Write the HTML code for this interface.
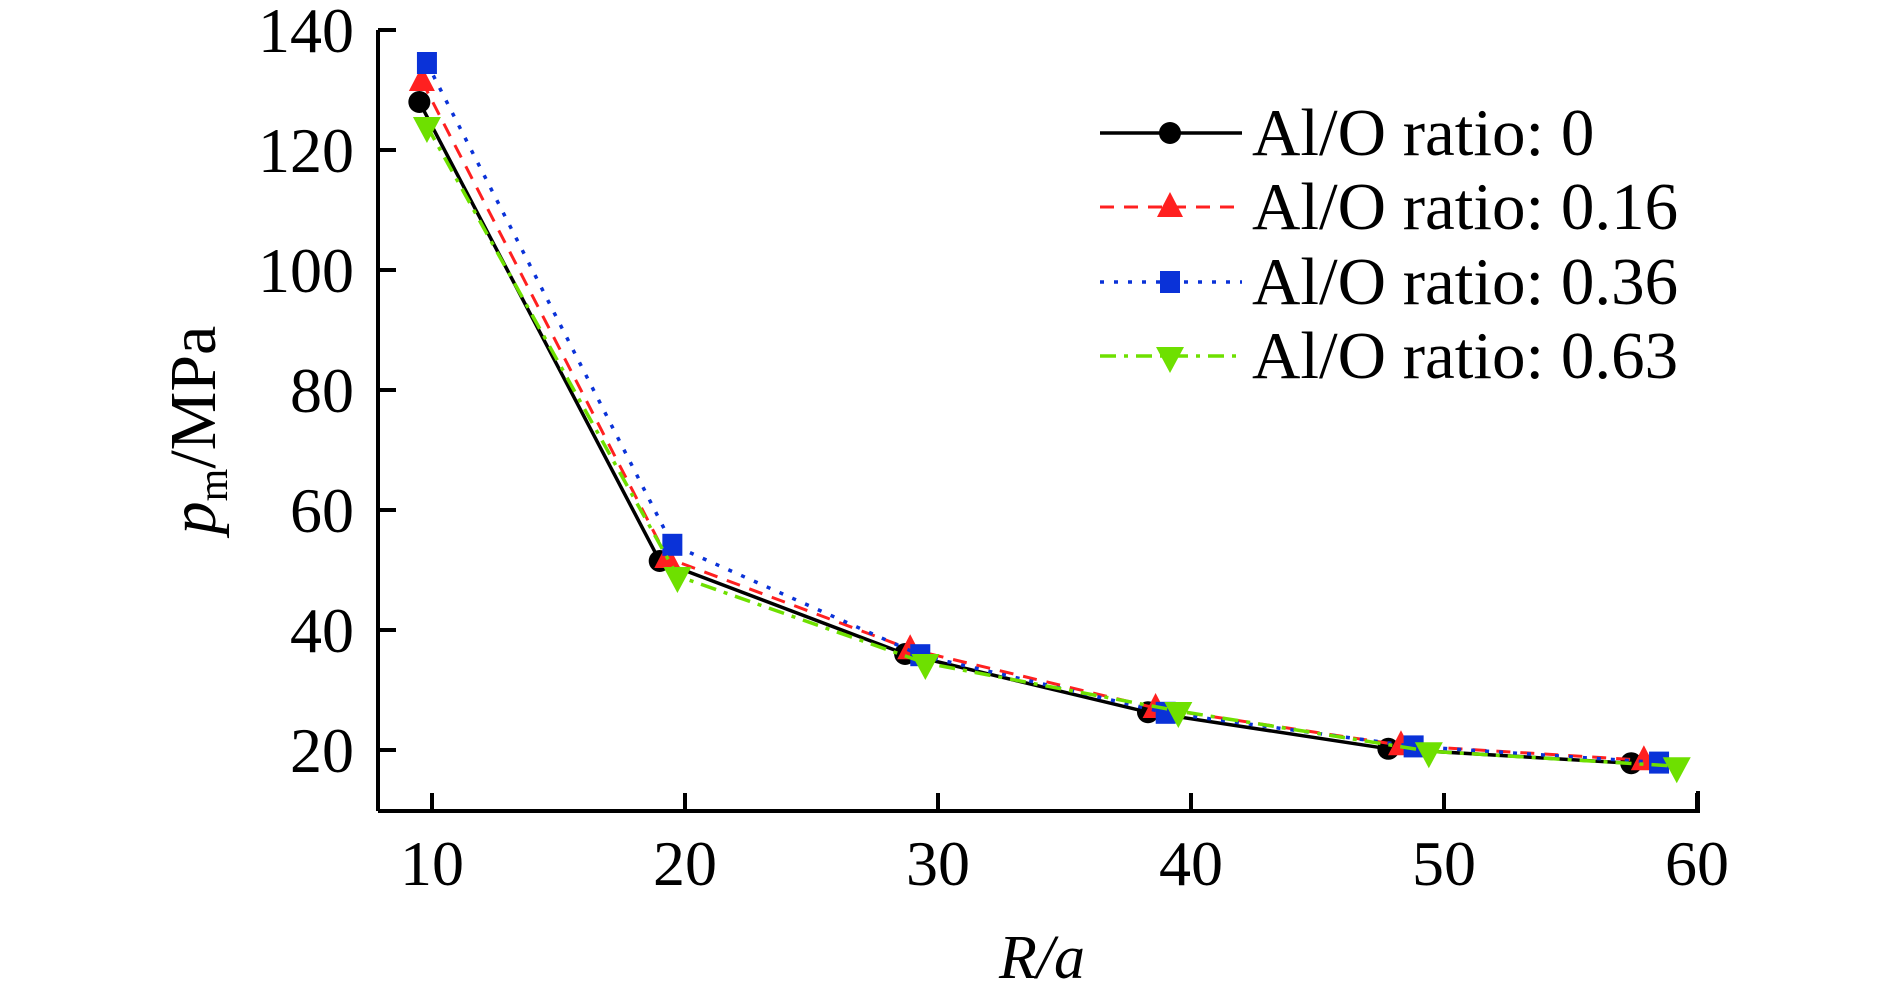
<!DOCTYPE html>
<html><head><meta charset="utf-8"><style>
html,body{margin:0;padding:0;background:#fff;}
svg{display:block;font-family:"Liberation Serif","Times New Roman",serif;}
</style></head><body>
<svg id="chart" width="1890" height="998" viewBox="0 0 1890 998">
<g id="axes"></g>
<g id="series"></g>
<g id="legend"></g>
<text x="0" y="0" transform="translate(215,430) rotate(-90)" text-anchor="middle" font-size="66"><tspan font-style="italic">p</tspan><tspan font-size="42" dy="12">m</tspan><tspan dy="-12">/MPa</tspan></text>
<text x="1042" y="978" text-anchor="middle" font-size="62" font-style="italic">R/a</text>
</svg>
<script>
const xTicks = [10, 20, 30, 40, 50, 60];
const yTicks = [20, 40, 60, 80, 100, 120, 140];
const seriesNames = ["Al/O ratio: 0", "Al/O ratio: 0.16", "Al/O ratio: 0.36", "Al/O ratio: 0.63"];
const xBlack = [9.5, 19.0, 28.7, 38.3, 47.8, 57.4];
const yBlack = [128, 51.5, 36, 26.3, 20.2, 17.8];
const xRed = [9.6, 19.3, 28.9, 38.6, 48.3, 57.9];
const yRed = [131.5, 52, 36.8, 27, 20.8, 18.3];
const xBlue = [9.8, 19.5, 29.3, 39.0, 48.8, 58.5];
const yBlue = [134.5, 54.2, 35.8, 26.2, 20.6, 17.9];
const xGreen = [9.8, 19.7, 29.5, 39.5, 49.4, 59.2];
const yGreen = [124, 49, 34.5, 26.5, 19.8, 17.3];

const NS = "http://www.w3.org/2000/svg";
const X0 = 378, X1 = 1698, Y0 = 811, YTOP = 30;
function sx(v){ return 432 + (v - 10) * 25.3; }
function sy(v){ return 30 + (140 - v) * 6; }
function mk(tag, attrs, parent){ const e = document.createElementNS(NS, tag); for (const k in attrs) e.setAttribute(k, attrs[k]); parent.appendChild(e); return e; }

const axes = document.getElementById('axes');
const yAxis = mk('path', {d:`M${X0},${YTOP} V${Y0}`, stroke:'#000', 'stroke-width':4, fill:'none'}, axes);


const xAxis = mk('path', {d:`M${X0},${Y0} H${X1} V${Y0-20}`, stroke:'#000', 'stroke-width':4, fill:'none'}, axes);


xTicks.forEach(t => {
  const x = sx(t);
  const tk = mk('line', {x1:x, x2:x, y1:Y0, y2:Y0-18, stroke:'#000', 'stroke-width':4}, axes);
  
  
  const lb = mk('text', {x:x, y:885, 'text-anchor':'middle', 'font-size':64}, axes);
  lb.textContent = t;
  
  
});
yTicks.forEach(t => {
  const y = sy(t);
  const tk = mk('line', {x1:X0, x2:X0+18, y1:y, y2:y, stroke:'#000', 'stroke-width':4}, axes);
  
  
  const lb = mk('text', {x:354, y:y+22, 'text-anchor':'end', 'font-size':64}, axes);
  lb.textContent = t;
  
  
});

const styles = [
  {xs:xBlack, ys:yBlack, color:'#000', dash:'', marker:'circle', w:3.5},
  {xs:xRed, ys:yRed, color:'#ff2020', dash:'14,10', marker:'tri', w:3},
  {xs:xBlue, ys:yBlue, color:'#0a32d8', dash:'4,10', marker:'square', w:3.5},
  {xs:xGreen, ys:yGreen, color:'#6ee000', dash:'16,8,4,8', marker:'tridown', w:3.5}
];
function marker(g, type, x, y, color){
  let e;
  if (type === 'circle') e = mk('circle', {cx:x, cy:y, r:11, fill:color}, g);
  else if (type === 'square') e = mk('rect', {x:x-10, y:y-11, width:20, height:22, fill:color}, g);
  else if (type === 'tri') e = mk('polygon', {points:`${x},${y-15} ${x-13},${y+10} ${x+13},${y+10}`, fill:color}, g);
  else e = mk('polygon', {points:`${x},${y+17} ${x-14},${y-9} ${x+14},${y-9}`, fill:color}, g);
  return e;
}
const sg = document.getElementById('series');
styles.forEach((s, i) => {
  const g = mk('g', {}, sg);
  
  
  const pts = s.xs.map((v, j) => sx(v) + ',' + sy(s.ys[j])).join(' ');
  const pl = mk('polyline', {points:pts, fill:'none', stroke:s.color, 'stroke-width':s.w, 'stroke-dasharray':s.dash}, g);
  
  
  s.xs.forEach((v, j) => {
    const m = marker(g, s.marker, sx(v), sy(s.ys[j]), s.color);
    
    
  });
});

const lg = document.getElementById('legend');
const rowY = [133, 207, 282, 356];
styles.forEach((s, i) => {
  const g = mk('g', {}, lg);
  
  
  mk('line', {x1:1100, x2:1242, y1:rowY[i], y2:rowY[i], stroke:s.color, 'stroke-width':s.w, 'stroke-dasharray':s.dash}, g);
  marker(g, s.marker, 1170, rowY[i], s.color);
  const t = mk('text', {x:1252, y:rowY[i]+22, 'font-size':67}, g);
  t.textContent = seriesNames[i];
});
</script>
</body></html>
